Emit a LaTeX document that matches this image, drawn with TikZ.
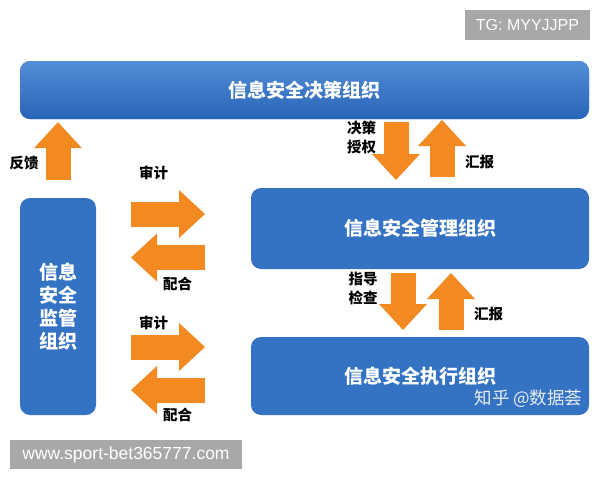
\documentclass[tikz,border=0pt]{standalone}
\usepackage{fontspec}
\usepackage{tikz}
\newfontfamily\cjk{Noto Sans CJK SC}
\newfontfamily\wmfont{Liberation Sans}
\usetikzlibrary{arrows.meta}
\usetikzlibrary{positioning}
\definecolor{orgblue}{RGB}{52,115,196}
\definecolor{toplight}{RGB}{84,142,214}
\definecolor{topdark}{RGB}{40,100,184}
\definecolor{flowor}{RGB}{242,137,33}
\definecolor{wmgray}{RGB}{168,168,168}
\definecolor{zhgray}{RGB}{232,236,242}

\begin{document}
\begin{tikzpicture}[x=1pt,y=-1pt,
  org/.style={fill=orgblue,rounded corners=10pt,text=white,font=\cjk\bfseries\fontsize{19}{23}\selectfont,inner sep=0pt},
  flow/.style={line width=25pt,draw=flowor,-{Triangle[width=48pt,length=26pt,line width=0pt]}},
  lab/.style={font=\cjk\bfseries\fontsize{14.5}{19}\selectfont,inner sep=0pt,align=center},
  wm/.style={fill=wmgray,text=white,inner sep=0pt}]
  \useasboundingbox (0,0) rectangle (600,480);
  \node[org,top color=toplight,bottom color=topdark,minimum width=569pt,minimum height=58pt] (decide) at (304.5,90) {信息安全决策组织};
  \node[org,minimum width=76pt,minimum height=217pt,align=center] (supervise) at (58,306.5) {信息\\安全\\监管\\组织};
  \node[org,minimum width=338pt,minimum height=81pt] (manage) at (420,228.5) {信息安全管理组织};
  \node[org,minimum width=338pt,minimum height=78pt] (execute) at (420,376) {信息安全执行组织};
  \coordinate (fb0) at ([yshift=18pt]supervise.north);
  \coordinate (fb1) at ([yshift=-3pt]decide.south -| supervise.north);
  \coordinate (dc0) at (396,122);
  \coordinate (dc1) at (396,180);
  \coordinate (rp0) at (442,177);
  \coordinate (rp1) at (442,120);
  \coordinate (gd0) at (403,273);
  \coordinate (gd1) at (403,330);
  \coordinate (rq0) at (451,330);
  \coordinate (rq1) at (451,273);
  \coordinate (au0) at (131,214);
  \coordinate (au1) at (205,214);
  \coordinate (co0) at (205,257.5);
  \coordinate (co1) at (131,257.5);
  \coordinate (av0) at (131,347);
  \coordinate (av1) at (205,347);
  \coordinate (cp0) at (205,390);
  \coordinate (cp1) at (131,390);
  \draw[flow](fb0)--(fb1);
  \draw[flow](dc0)--(dc1);
  \draw[flow](rp0)--(rp1);
  \draw[flow](gd0)--(gd1);
  \draw[flow](rq0)--(rq1);
  \draw[flow](au0)--(au1);
  \draw[flow](co0)--(co1);
  \draw[flow](av0)--(av1);
  \draw[flow](cp0)--(cp1);
  \node[lab] (feedback) at (24,163) {反馈};
  \node[lab] (audit1) at (153.5,173) {审计};
  \node[lab] (coop1) at (177.5,284) {配合};
  \node[lab] (audit2) at (153.5,323) {审计};
  \node[lab] (coop2) at (177.5,415) {配合};
  \node[lab] (authorize) at (361.5,137.5) {决策\\授权};
  \node[lab] (report1) at (479.5,162) {汇报};
  \node[lab] (guide) at (363,288.5) {指导\\检查};
  \node[lab] (report2) at (488.5,314) {汇报};
  \node[inner sep=0pt,text=zhgray,font=\cjk\fontsize{17.5}{17.5}\selectfont] (zhihu) at (528.5,399) {知乎 @数据荟};
  \node[wm,minimum width=125pt,minimum height=30pt,font=\wmfont\fontsize{16}{16}\selectfont] (tg) at (527.5,25) {TG: MYYJJPP};
  \node[wm,minimum width=232pt,minimum height=29pt,font=\wmfont\fontsize{17.5}{17.5}\selectfont] (site) at (126,454.5) {www.sport-bet365777.com};
\end{tikzpicture}
\end{document}
